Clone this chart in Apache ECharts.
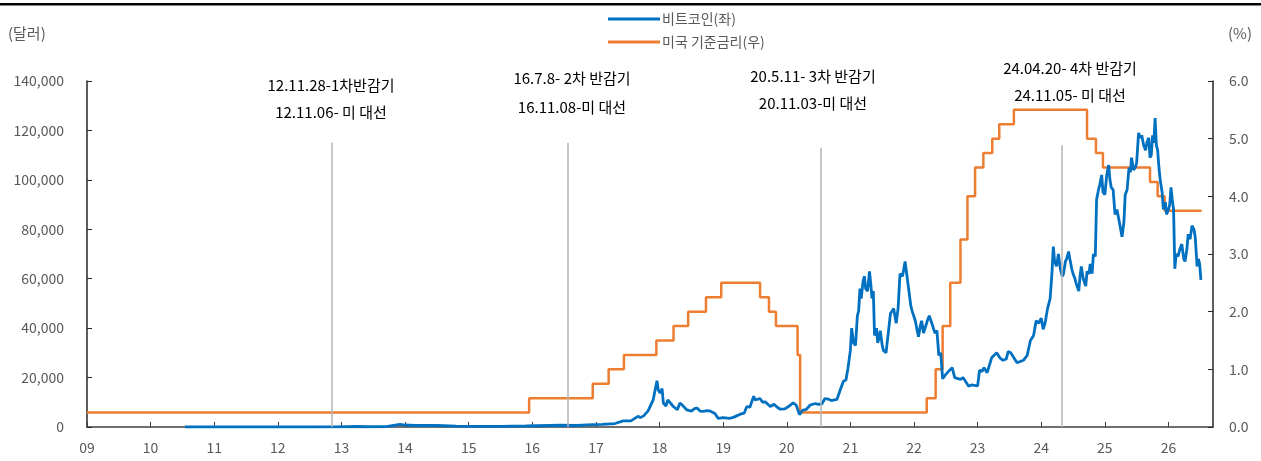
<!DOCTYPE html>
<html>
<head>
<meta charset="utf-8">
<script src="https://cdn.jsdelivr.net/npm/echarts@6/dist/echarts.min.js"></script>
<style>
  html, body { margin: 0; padding: 0; background: #fff; }
  #chart { width: 1261px; height: 461px; }
</style>
</head>
<body>
<div id="chart"></div>
<script>
// 연도(소수) 기준 x값
const yearTicks = [2009, 2010, 2011, 2012, 2013, 2014, 2015, 2016, 2017, 2018, 2019, 2020, 2021, 2022, 2023, 2024, 2025, 2026]

// 비트코인 가격 (달러), 그림에서 읽은 값
const btcDates = [
  2010.54, 2010.9, 2011.45, 2011.9, 2012.5, 2012.9, 2013.25, 2013.4, 2013.7, 2013.92,
  2014.0, 2014.15, 2014.5, 2014.8, 2015.0, 2015.5, 2015.9, 2016.45, 2016.7, 2016.95,
  2017.1, 2017.3, 2017.43, 2017.55, 2017.66, 2017.7, 2017.75, 2017.82, 2017.9, 2017.96,
  2017.98, 2018.01, 2018.04, 2018.06, 2018.1, 2018.13, 2018.16, 2018.22, 2018.28, 2018.32,
  2018.36, 2018.43, 2018.5, 2018.55, 2018.59, 2018.64, 2018.69, 2018.74, 2018.8, 2018.87,
  2018.92, 2019.0, 2019.1, 2019.16, 2019.27, 2019.33, 2019.37, 2019.42, 2019.48, 2019.5,
  2019.53, 2019.58, 2019.62, 2019.66, 2019.74, 2019.8, 2019.85, 2019.9, 2019.97, 2020.04,
  2020.1, 2020.15, 2020.2, 2020.25, 2020.3, 2020.37, 2020.45, 2020.5, 2020.55, 2020.6,
  2020.65, 2020.7, 2020.79, 2020.84, 2020.89, 2020.93, 2020.96, 2021.0, 2021.02, 2021.05,
  2021.08, 2021.11, 2021.13, 2021.15, 2021.17, 2021.2, 2021.22, 2021.24, 2021.27, 2021.3,
  2021.32, 2021.34, 2021.36, 2021.38, 2021.41, 2021.43, 2021.45, 2021.47, 2021.5, 2021.52,
  2021.56, 2021.6, 2021.63, 2021.66, 2021.68, 2021.72, 2021.75, 2021.78, 2021.82, 2021.86,
  2021.88, 2021.91, 2021.95, 2021.97, 2022.02, 2022.07, 2022.1, 2022.12, 2022.15, 2022.17,
  2022.21, 2022.24, 2022.28, 2022.33, 2022.36, 2022.39, 2022.42, 2022.45, 2022.49, 2022.52,
  2022.56, 2022.6, 2022.64, 2022.67, 2022.73, 2022.77, 2022.8, 2022.86, 2022.9, 2022.95,
  2023.0, 2023.03, 2023.07, 2023.1, 2023.15, 2023.18, 2023.22, 2023.25, 2023.3, 2023.35,
  2023.4, 2023.45, 2023.48, 2023.52, 2023.55, 2023.62, 2023.67, 2023.72, 2023.78, 2023.83,
  2023.88, 2023.92, 2023.96, 2024.0, 2024.03, 2024.06, 2024.1, 2024.14, 2024.17, 2024.19,
  2024.21, 2024.24, 2024.27, 2024.3, 2024.33, 2024.35, 2024.38, 2024.4, 2024.43, 2024.45,
  2024.48, 2024.5, 2024.53, 2024.55, 2024.59, 2024.61, 2024.63, 2024.66, 2024.7, 2024.72,
  2024.75, 2024.77, 2024.8, 2024.82, 2024.85, 2024.87, 2024.9, 2024.92, 2024.95, 2024.97,
  2025.0, 2025.03, 2025.06, 2025.08, 2025.1, 2025.13, 2025.16, 2025.19, 2025.22, 2025.24,
  2025.27, 2025.3, 2025.32, 2025.35, 2025.38, 2025.4, 2025.42, 2025.45, 2025.48, 2025.5,
  2025.53, 2025.56, 2025.58, 2025.61, 2025.64, 2025.66, 2025.69, 2025.71, 2025.73, 2025.75,
  2025.77, 2025.79, 2025.81, 2025.83, 2025.85, 2025.87, 2025.9, 2025.92, 2025.95, 2025.97,
  2026.0, 2026.02, 2026.04, 2026.06, 2026.08, 2026.1, 2026.12, 2026.15, 2026.18, 2026.21,
  2026.24, 2026.26, 2026.29, 2026.31, 2026.34, 2026.37, 2026.4, 2026.42, 2026.45, 2026.47,
  2026.49, 2026.51
]
const btcValues = [
  0.06, 0.3, 15, 3, 7, 12, 200, 110, 130, 1100,
  800, 600, 600, 380, 250, 250, 400, 700, 600, 950,
  1100, 1400, 2500, 2500, 4300, 3800, 4500, 6500, 11000, 18700,
  15000, 13800, 15500, 9700, 8500, 11000, 10500, 8200, 7000, 9700,
  8800, 6900, 6400, 7400, 7700, 6400, 6300, 6600, 6400, 5500,
  3500, 3800, 3500, 3900, 5200, 5600, 8200, 8000, 12500, 11000,
  10500, 11500, 10000, 10200, 8300, 9200, 8000, 7200, 7300, 8500,
  9800, 8800, 5000, 6800, 7000, 8900, 9500, 9200, 9300, 11500,
  11300, 10700, 11200, 15000, 18500, 19000, 23500, 31000, 40000, 34000,
  33000, 45000, 47000, 56000, 52000, 59000, 61000, 56000, 55000, 63000,
  58000, 52000, 55000, 37000, 40000, 34000, 36000, 39000, 33000, 31000,
  30000, 39000, 46000, 47000, 48000, 42000, 48000, 62000, 61000, 67000,
  63000, 57000, 49000, 47000, 43000, 36500, 41000, 43000, 38000, 38000,
  43000, 45000, 42000, 38000, 39000, 29000, 30000, 19500, 21000, 21000,
  23000, 24000, 20000, 20000, 19300, 20000, 20500, 16500, 17000, 16800,
  16600, 23000, 22500, 24000, 22000, 21500, 28000, 28500, 30000, 28000,
  27000, 27500, 30500, 30000, 29500, 26000, 26500, 27000, 29000, 35000,
  37000, 43000, 42000, 44000, 39500, 42000, 48000, 52000, 63000, 73000,
  67000, 65000, 70000, 64000, 61000, 62000, 67000, 68000, 71000, 68000,
  64000, 62000, 60000, 58000, 55000, 61000, 65000, 60000, 57000, 63000,
  62000, 66000, 62000, 70000, 69000, 92000, 96000, 98000, 102000, 95000,
  94000, 102000, 106000, 100000, 97000, 96000, 86000, 88000, 84000, 84000,
  77000, 83000, 94000, 96000, 105000, 103000, 109000, 104000, 105000, 107000,
  119000, 117000, 118000, 114000, 112000, 115000, 117000, 109000, 110000, 118000,
  115000, 125000, 114000, 112000, 105000, 100000, 95000, 88000, 91000, 86000,
  88000, 90000, 97000, 92000, 88000, 64000, 70000, 69000, 72000, 74000,
  68000, 67000, 72000, 78000, 76000, 81500, 80000, 77000, 65000, 68000,
  66000, 59500
]

// 미국 기준금리 (상단, %) 변경 시점
const rateDates = [
  2009.0, 2015.95, 2016.95, 2017.2, 2017.44, 2017.95, 2018.22, 2018.45, 2018.73, 2018.97,
  2019.58, 2019.72, 2019.83, 2020.17, 2020.21, 2022.2, 2022.34, 2022.45, 2022.57, 2022.73,
  2022.84, 2022.96, 2023.09, 2023.23, 2023.34, 2023.57, 2024.72, 2024.86, 2024.97, 2025.71,
  2025.83, 2025.94, 2026.52
]
const rateValues = [
  0.25, 0.5, 0.75, 1.0, 1.25, 1.5, 1.75, 2.0, 2.25, 2.5,
  2.25, 2.0, 1.75, 1.25, 0.25, 0.5, 1.0, 1.75, 2.5, 3.25,
  4.0, 4.5, 4.75, 5.0, 5.25, 5.5, 5.0, 4.75, 4.5, 4.25,
  4.0, 3.75, 3.75
]

// 반감기 세로선
const halvingX = [2012.84, 2016.55, 2020.53, 2024.33]
const halvingTop = [115000, 115000, 113000, 114000]

const notes = [
  ['12.11.28-1차반감기', '12.11.06- 미 대선'],
  ['16.7.8- 2차 반감기', '16.11.08-미 대선'],
  ['20.5.11- 3차 반감기', '20.11.03-미 대선'],
  ['24.04.20- 4차 반감기', '24.11.05- 미 대선']
]
const notePos = [[331, 85, 112], [572, 78, 107], [813, 76, 103], [1070, 68, 95]]

const FONT = '"Noto Sans CJK KR", "Noto Sans", sans-serif'
const GRAY = '#595959'

const chart = echarts.init(document.getElementById('chart'))

const btcData = btcDates.map((d, i) => [d, btcValues[i]])
const rateData = rateDates.map((d, i) => [d, rateValues[i]])

const noteGraphics = []
notes.forEach((n, i) => {
  noteGraphics.push({
    type: 'text', x: notePos[i][0], y: notePos[i][1],
    style: { text: n[0], font: '15px ' + FONT, fill: '#000', align: 'center', verticalAlign: 'middle' }
  })
  noteGraphics.push({
    type: 'text', x: notePos[i][0], y: notePos[i][2],
    style: { text: n[1], font: '15px ' + FONT, fill: '#000', align: 'center', verticalAlign: 'middle' }
  })
})

const option = {
  animation: false,
  textStyle: { fontFamily: FONT },
  grid: { left: 87, right: 48, top: 81, bottom: 34 },
  legend: {
    orient: 'vertical',
    left: 603,
    top: 7,
    icon: 'rect',
    itemWidth: 52,
    itemHeight: 3,
    itemGap: 9,
    textStyle: { fontSize: 14, color: GRAY, fontFamily: FONT, padding: [0, 0, 0, -3] },
    data: ['비트코인(좌)', '미국 기준금리(우)']
  },
  graphic: [
    { type: 'rect', shape: { x: 0, y: 3, width: 1261, height: 2.5 }, style: { fill: '#000' } },
    { type: 'text', x: 8, y: 33, style: { text: '(달러)', font: '15px ' + FONT, fill: GRAY, verticalAlign: 'middle' } },
    { type: 'text', x: 1228, y: 33, style: { text: '(%)', font: '15px ' + FONT, fill: GRAY, verticalAlign: 'middle' } }
  ].concat(noteGraphics),
  xAxis: {
    type: 'value',
    min: 2009,
    max: 2026.7,
    splitLine: { show: false },
    axisLine: { lineStyle: { color: '#404040', width: 1.5 } },
    axisTick: { inside: true, length: 5, customValues: yearTicks, lineStyle: { color: '#404040' } },
    axisLabel: {
      customValues: yearTicks,
      margin: 14,
      fontSize: 14,
      color: GRAY,
      formatter: v => String(v).slice(2)
    }
  },
  yAxis: [
    {
      type: 'value',
      min: 0,
      max: 140000,
      interval: 20000,
      splitLine: { show: false },
      axisLine: { show: true, lineStyle: { color: '#262626', width: 1.5 } },
      axisTick: { show: true, inside: true, length: 5, lineStyle: { color: '#262626' } },
      axisLabel: { margin: 23, fontSize: 14, color: GRAY, formatter: v => v.toLocaleString('en-US') }
    },
    {
      type: 'value',
      min: 0,
      max: 6,
      interval: 1,
      splitLine: { show: false },
      axisLine: { show: true, lineStyle: { color: '#262626', width: 1.5 } },
      axisTick: { show: true, inside: true, length: 5, lineStyle: { color: '#262626' } },
      axisLabel: { margin: 16, fontSize: 14, color: GRAY, formatter: v => v.toFixed(1) }
    }
  ],
  series: [
    {
      name: '비트코인(좌)',
      type: 'line',
      data: btcData,
      symbol: 'none',
      color: '#0070C0',
      lineStyle: { width: 2.8, color: '#0070C0' },
      z: 3,
      markLine: {
        silent: true,
        symbol: 'none',
        label: { show: false },
        lineStyle: { color: '#B4B4B4', width: 1.5, type: 'solid' },
        data: halvingX.map((x, i) => [{ coord: [x, halvingTop[i]] }, { coord: [x, 0] }])
      }
    },
    {
      name: '미국 기준금리(우)',
      type: 'line',
      yAxisIndex: 1,
      data: rateData,
      step: 'end',
      symbol: 'none',
      color: '#ED7D31',
      lineStyle: { width: 2.5, color: '#ED7D31' },
      z: 2
    }
  ]
}

chart.setOption(option)
</script>
</body>
</html>
